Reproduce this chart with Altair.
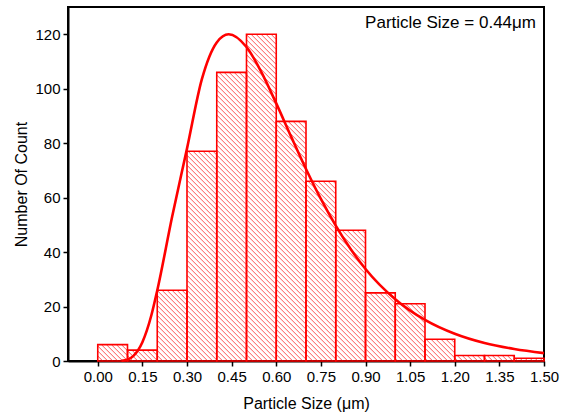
import altair as alt
import pandas as pd

# ---- data ----
bin_start = [0.0, 0.1, 0.2, 0.3, 0.4, 0.5, 0.6, 0.7, 0.8, 0.9, 1.0, 1.1, 1.2, 1.3, 1.4]
bin_end = [0.1, 0.2, 0.3, 0.4, 0.5, 0.6, 0.7, 0.8, 0.9, 1.0, 1.1, 1.2, 1.3, 1.4, 1.5]
counts = [6, 4, 26, 77, 106, 120, 88, 66, 48, 25, 21, 8, 2, 2, 1]

curve_x = [0.08, 0.10, 0.12, 0.15, 0.18, 0.20, 0.25, 0.30, 0.35, 0.40, 0.44, 0.50,
           0.55, 0.60, 0.65, 0.70, 0.75, 0.80, 0.85, 0.90, 1.00, 1.10, 1.20, 1.30,
           1.40, 1.50]
curve_y = [0.1, 0.5, 1.9, 6.9, 16.7, 25.9, 53.0, 78.0, 103.5, 117.0, 120.0, 115.3,
           106.1, 94.6, 82.4, 70.5, 59.5, 49.7, 41.1, 33.8, 22.7, 15.1, 10.0, 6.6,
           4.4, 2.9]

x_ticks = [0.0, 0.15, 0.30, 0.45, 0.60, 0.75, 0.90, 1.05, 1.20, 1.35, 1.50]
y_ticks = [0, 20, 40, 60, 80, 100, 120]

bars = pd.DataFrame({"x0": bin_start, "x1": bin_end, "count": counts})
curve = pd.DataFrame({"x": curve_x, "y": curve_y})

# ---- layout ----
W, H = 476, 354
XDOM = [-0.1, 1.5]
YDOM = [0, 130]
S = (W / (XDOM[1] - XDOM[0])) / (H / (YDOM[1] - YDOM[0]))  # counts per um for a 45 deg line
STEP = 5 / (W / (XDOM[1] - XDOM[0]))  # hatch spacing (5 px horizontally)
FONT = "Liberation Sans"
RED = "#ff0000"

xs = alt.Scale(domain=XDOM, nice=False, zero=False)
ys = alt.Scale(domain=YDOM, nice=False)

x_axis = alt.Axis(values=x_ticks, format=".2f", title="Particle Size (\u03bcm)",
                  labelPadding=3, titlePadding=11, tickSize=5, labelFlush=False,
                  labelOverlap=False)
y_axis = alt.Axis(values=y_ticks, title="Number Of Count", labelPadding=3,
                  titlePadding=5, tickSize=5)

base = alt.Chart(bars)

hatch = base.transform_calculate(
    k="sequence(0, 120)"
).transform_flatten(["k"]).transform_calculate(
    c=f"(floor(datum.x0/{STEP}) + datum.k) * {STEP}"
).transform_calculate(
    xa=f"max(datum.x0, datum.c - datum.count/{S})",
    xb="min(datum.x1, datum.c)"
).transform_calculate(
    ya=f"min(datum.count, {S}*(datum.c - datum.xa))",
    yb=f"max(0, {S}*(datum.c - datum.xb))"
).transform_filter(
    "datum.xb > datum.xa + 0.0005"
).mark_rule(color=RED, strokeWidth=0.9, opacity=0.75).encode(
    x=alt.X("xa:Q", scale=xs, axis=x_axis),
    y=alt.Y("ya:Q", scale=ys, axis=y_axis),
    x2="xb:Q",
    y2="yb:Q",
)

rects = base.mark_rect(fill=None, stroke=RED, strokeWidth=1.6).encode(
    x=alt.X("x0:Q", scale=xs, axis=x_axis),
    x2="x1:Q",
    y=alt.Y("count:Q", scale=ys, axis=y_axis),
    y2=alt.datum(0),
)

line = alt.Chart(curve).mark_line(color=RED, strokeWidth=2.6, interpolate="monotone").encode(
    x=alt.X("x:Q", scale=xs, axis=x_axis),
    y=alt.Y("y:Q", scale=ys, axis=y_axis),
)

label = alt.Chart(pd.DataFrame({"t": ["Particle Size = 0.44\u03bcm"]})).mark_text(
    align="right", baseline="middle", font=FONT, fontSize=17, color="black"
).encode(x=alt.value(W - 8), y=alt.value(16), text="t:N")

chart = alt.layer(hatch, rects, line, label).properties(
    width=W, height=H,
    autosize=alt.AutoSizeParams(type="none"),
    padding={"left": 68, "top": 7, "right": 21, "bottom": 54},
    background="white",
).configure_view(
    stroke="black", strokeWidth=2
).configure_axis(
    grid=False,
    domainColor="black", domainWidth=2,
    tickColor="black", tickWidth=1.5,
    labelFont=FONT, labelFontSize=15, labelColor="black",
    titleFont=FONT, titleFontSize=16, titleFontWeight="normal", titleColor="black",
)

chart.save("out.html", embed_options={"renderer": "svg", "actions": False})
